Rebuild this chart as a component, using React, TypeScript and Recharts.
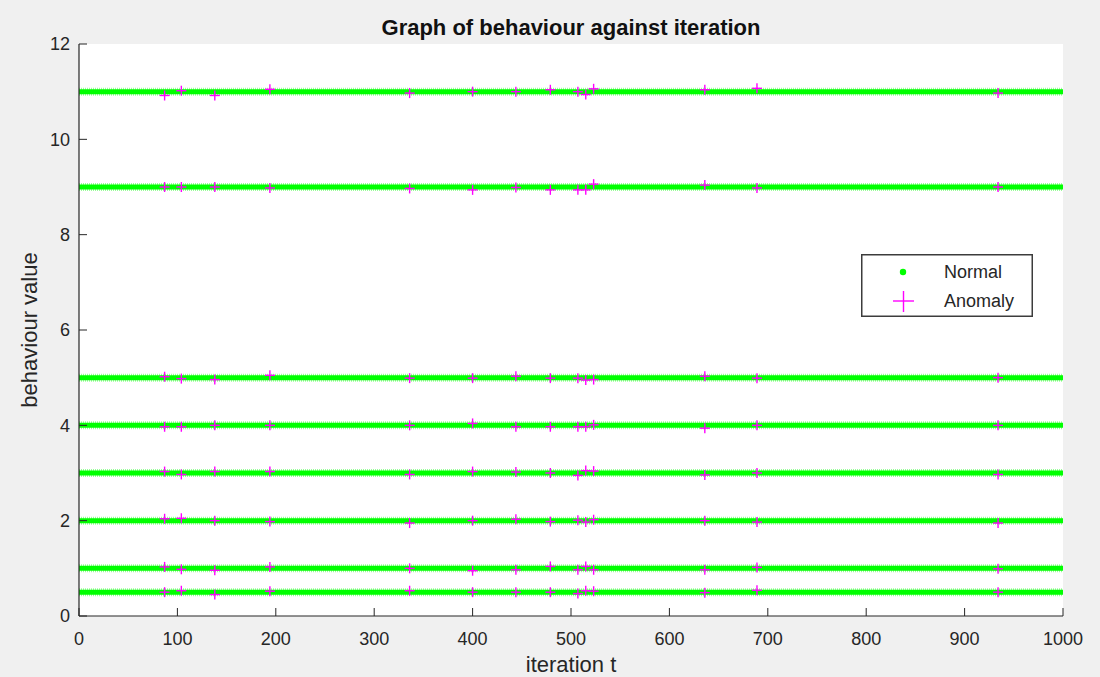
import React from 'react';
import { ComposedChart, Line, Scatter, XAxis, YAxis, Legend, CartesianGrid } from 'recharts';

// iteration range covered by the normal behaviour bands
const iterationRange = [0, 1000];
// levels of the normal behaviour bands
const normalLevels = [0.5, 1, 2, 3, 4, 5, 9, 11];

// iterations where anomalies were injected (same for every band)
const anomalyIterations = [87, 104, 138, 194, 336, 400, 444, 479, 507, 515, 523, 636, 689, 934];
// anomaly values per band
const anomalyBand05 = [0.5, 0.53, 0.45, 0.52, 0.53, 0.5, 0.5, 0.5, 0.47, 0.53, 0.52, 0.49, 0.54, 0.5];
const anomalyBand1 = [1.03, 0.98, 0.96, 1.03, 1.0, 0.95, 0.97, 1.04, 0.97, 1.04, 0.97, 0.97, 1.02, 0.99];
const anomalyBand2 = [2.04, 2.05, 2.0, 1.98, 1.95, 2.0, 2.03, 1.98, 2.01, 1.97, 2.02, 2.0, 1.97, 1.95];
const anomalyBand3 = [3.03, 2.97, 3.03, 3.03, 2.97, 3.03, 3.02, 3.0, 2.95, 3.05, 3.04, 2.96, 3.0, 2.97];
const anomalyBand4 = [3.97, 3.97, 4.0, 4.0, 4.0, 4.04, 3.97, 3.97, 3.97, 3.97, 4.01, 3.94, 4.0, 4.0];
const anomalyBand5 = [5.02, 4.98, 4.96, 5.05, 4.99, 4.99, 5.03, 4.99, 4.99, 4.95, 4.96, 5.03, 4.99, 5.0];
const anomalyBand9 = [9.0, 9.0, 9.0, 8.98, 8.97, 8.94, 8.99, 8.94, 8.94, 8.94, 9.06, 9.04, 8.98, 9.0];
const anomalyBand11 = [10.92, 11.02, 10.92, 11.05, 10.97, 11.0, 11.0, 11.04, 11.0, 10.94, 11.06, 11.04, 11.07, 10.97];

const xTicks = [0, 100, 200, 300, 400, 500, 600, 700, 800, 900, 1000];
const yTicks = [0, 2, 4, 6, 8, 10, 12];

const FONT = '"Liberation Sans", Arial, Helvetica, sans-serif';
const INK = '#262626';
const GREEN = '#00ff00';
const MAGENTA = '#ff00ff';

const anomalyData = [
  anomalyBand05, anomalyBand1, anomalyBand2, anomalyBand3,
  anomalyBand4, anomalyBand5, anomalyBand9, anomalyBand11,
].flatMap((band) => band.map((y, i) => ({ x: anomalyIterations[i], y })));

const PlusShape = (props: any) => {
  const { cx, cy } = props;
  return (
    <g>
      <line x1={cx - 5} x2={cx + 5} y1={cy} y2={cy} stroke={MAGENTA} strokeWidth={1.4} />
      <line x1={cx} x2={cx} y1={cy - 5} y2={cy + 5} stroke={MAGENTA} strokeWidth={1.4} />
    </g>
  );
};

const LegendBox = () => (
  <svg width={172} height={63} style={{ display: 'block' }}>
    <rect x={0.75} y={0.75} width={170.5} height={61.5} fill="#fff" stroke="#3c3c3c" strokeWidth={1.5} />
    <circle cx={42} cy={18} r={3.2} fill={GREEN} />
    <line x1={32} x2={53} y1={47} y2={47} stroke={MAGENTA} strokeWidth={1.4} />
    <line x1={42.5} x2={42.5} y1={37} y2={58} stroke={MAGENTA} strokeWidth={1.4} />
    <text x={83} y={24} fontSize={18} fontFamily={FONT} fill={INK}>Normal</text>
    <text x={83} y={53} fontSize={18} fontFamily={FONT} fill={INK}>Anomaly</text>
  </svg>
);

export default function App() {
  const tickStyle = { fontSize: 18, fill: INK, fontFamily: FONT };
  return (
    <div style={{ position: 'absolute', left: 0, top: 0, width: 1100, height: 677, background: '#f0f0f0', fontFamily: FONT, overflow: 'hidden' }}>
      <div style={{ position: 'absolute', left: 79, top: 17, width: 984, textAlign: 'center', fontWeight: 'bold', fontSize: 22, lineHeight: '22px', color: '#111' }}>
        Graph of behaviour against iteration
      </div>
      <ComposedChart width={1100} height={677} margin={{ top: 44, right: 37, bottom: 0, left: 0 }}>
        <CartesianGrid horizontal={false} vertical={false} fill="#ffffff" fillOpacity={1} />
        <XAxis
          type="number"
          dataKey="x"
          domain={[0, 1000]}
          ticks={xTicks}
          height={61}
          tickSize={-8}
          tickMargin={24}
          tick={tickStyle}
          stroke={INK}
          axisLine={{ stroke: INK, strokeWidth: 1.2 }}
          tickLine={{ stroke: INK }}
          label={{ value: 'iteration t', position: 'insideBottom', offset: 5, style: { fontSize: 22, fill: INK, fontFamily: FONT } }}
        />
        <XAxis
          xAxisId="top"
          orientation="top"
          type="number"
          dataKey="x"
          domain={[0, 1000]}
          ticks={xTicks}
          height={0}
          tickSize={-8}
          tick={false}
          axisLine={{ stroke: INK, strokeWidth: 1.2 }}
          tickLine={{ stroke: INK }}
        />
        <YAxis
          type="number"
          dataKey="y"
          domain={[0, 12]}
          ticks={yTicks}
          width={79}
          tickSize={-8}
          tickMargin={17}
          tick={tickStyle}
          axisLine={{ stroke: INK, strokeWidth: 1.2 }}
          tickLine={{ stroke: INK }}
          label={{ value: 'behaviour value', angle: -90, position: 'insideLeft', offset: 29, style: { fontSize: 22, fill: INK, fontFamily: FONT, textAnchor: 'middle' } }}
        />
        <YAxis
          yAxisId="right"
          orientation="right"
          type="number"
          dataKey="y"
          domain={[0, 12]}
          ticks={yTicks}
          width={0}
          tickSize={-8}
          tick={false}
          axisLine={{ stroke: INK, strokeWidth: 1.2 }}
          tickLine={{ stroke: INK }}
        />
        {normalLevels.map((level) => (
          <Line
            key={`halo-${level}`}
            data={iterationRange.map((x) => ({ x, y: level }))}
            dataKey="y"
            stroke={GREEN}
            strokeOpacity={0.4}
            strokeWidth={8}
            strokeDasharray="1 1"
            dot={false}
            legendType="none"
            isAnimationActive={false}
          />
        ))}
        {normalLevels.map((level) => (
          <Line
            key={`core-${level}`}
            data={iterationRange.map((x) => ({ x, y: level }))}
            dataKey="y"
            name="Normal"
            stroke={GREEN}
            strokeWidth={5}
            dot={false}
            isAnimationActive={false}
          />
        ))}
        <Scatter name="Anomaly" data={anomalyData} dataKey="y" shape={PlusShape} isAnimationActive={false} />
        <Legend
          layout="vertical"
          verticalAlign="middle"
          align="center"
          content={() => <LegendBox />}
          wrapperStyle={{ left: 861, top: 254, width: 172, height: 63 }}
        />
      </ComposedChart>
    </div>
  );
}
